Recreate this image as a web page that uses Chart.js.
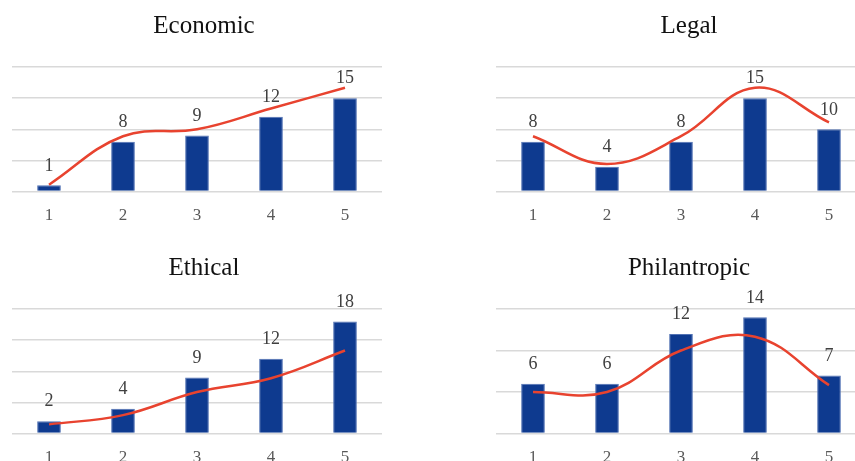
<!DOCTYPE html>
<html>
<head>
<meta charset="utf-8">
<script src="https://cdn.jsdelivr.net/npm/chart.js@4.4.1/dist/chart.umd.min.js"></script>
<style>
  html, body { margin: 0; padding: 0; background: #ffffff; }
  #board { position: relative; width: 855px; height: 461px; overflow: hidden; background: #ffffff; }
  #board canvas { position: absolute; }
</style>
</head>
<body>
<div id="board">
  <canvas id="economic" width="408" height="246" style="left:0px;top:0px"></canvas>
  <canvas id="legal" width="412" height="246" style="left:483px;top:0px"></canvas>
  <canvas id="ethical" width="408" height="246" style="left:0px;top:242px"></canvas>
  <canvas id="philantropic" width="412" height="246" style="left:483px;top:242px"></canvas>
</div>
<script>
// Categories shared by all four panels
const categories = ['1', '2', '3', '4', '5'];

// Scores per dimension
const economicValues = [1, 8, 9, 12, 15];
const legalValues = [8, 4, 8, 15, 10];
const ethicalValues = [2, 4, 9, 12, 18];
const philantropicValues = [6, 6, 12, 14, 7];

const panelTitles = ['Economic', 'Legal', 'Ethical', 'Philantropic'];

const SERIF = '"Liberation Serif", "Times New Roman", serif';
const BAR_BLUE = '#0E3A8F';
const LINE_RED = '#E8432F';

// Writes each bar's value above it
const barValueLabels = {
  id: 'barValueLabels',
  afterDatasetsDraw(chart) {
    const meta = chart.getDatasetMeta(0);
    const values = chart.data.datasets[0].data;
    const ctx = chart.ctx;
    ctx.save();
    ctx.font = '18px ' + SERIF;
    ctx.fillStyle = '#404040';
    ctx.textAlign = 'center';
    ctx.textBaseline = 'middle';
    meta.data.forEach((bar, i) => {
      ctx.fillText(String(values[i]), bar.x, bar.y - 19.5);
    });
    ctx.restore();
  }
};

function makePanel(canvasId, title, values, barMax, lineMax, leftWidth, rightWidth) {
  new Chart(document.getElementById(canvasId), {
    type: 'bar',
    data: {
      labels: categories,
      datasets: [
        {
          type: 'bar',
          data: values,
          yAxisID: 'y',
          backgroundColor: BAR_BLUE,
          borderColor: '#5272B4',
          borderWidth: 1,
          categoryPercentage: 0.8,
          barPercentage: 0.4,
          order: 2
        },
        {
          type: 'line',
          data: values,
          yAxisID: 'y1',
          borderColor: LINE_RED,
          borderWidth: 2.5,
          pointRadius: 0,
          tension: 0.4,
          fill: false,
          order: 1
        }
      ]
    },
    options: {
      responsive: false,
      devicePixelRatio: 1,
      animation: false,
      events: [],
      layout: { padding: { left: 0, right: 0, top: 0, bottom: 6 } },
      plugins: {
        legend: { display: false },
        tooltip: { enabled: false },
        title: {
          display: true,
          text: title,
          color: '#111111',
          font: { family: SERIF, size: 25, weight: 'normal', lineHeight: 1.2 },
          padding: { top: 11, bottom: 26 }
        }
      },
      scales: {
        x: {
          grid: { display: false, drawTicks: false },
          border: { display: false },
          ticks: {
            color: '#595959',
            padding: 14,
            font: { family: SERIF, size: 17 }
          }
        },
        y: {
          position: 'left',
          min: 0,
          max: barMax,
          ticks: { display: false, stepSize: 5 },
          border: { display: false },
          grid: { color: '#D9D9D9', lineWidth: 1.5, drawTicks: false },
          afterFit(scale) { scale.width = leftWidth; }
        },
        y1: {
          position: 'right',
          min: 0,
          max: lineMax,
          ticks: { display: false },
          border: { display: false },
          grid: { display: false, drawTicks: false },
          afterFit(scale) { scale.width = rightWidth; }
        }
      }
    },
    plugins: [barValueLabels]
  });
}

makePanel('economic', panelTitles[0], economicValues, 20, 18, 12, 26);
makePanel('legal', panelTitles[1], legalValues, 20, 18, 13, 29);
makePanel('ethical', panelTitles[2], ethicalValues, 20, 27, 12, 26);
makePanel('philantropic', panelTitles[3], philantropicValues, 15, 18, 13, 29);
</script>
</body>
</html>
